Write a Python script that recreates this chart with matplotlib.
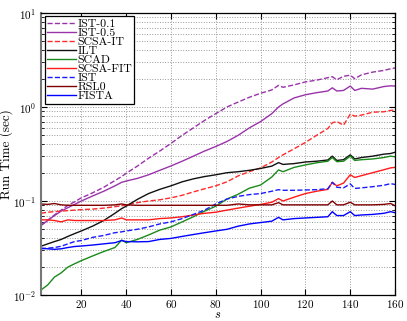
import numpy as np
import matplotlib
matplotlib.use("Agg")
from matplotlib import pyplot as plt

plt.rcParams['font.family'] = 'serif'
plt.rcParams['font.serif'] = ['cmr10', 'DejaVu Serif']
plt.rcParams['mathtext.fontset'] = 'cm'
plt.rcParams['axes.formatter.use_mathtext'] = True

s = [2, 5, 8, 11, 14, 17, 20, 25, 30, 35, 38, 40, 45, 50, 55, 60, 65, 70, 75, 80, 85,
     90, 95, 100, 105, 108, 110, 115, 120, 125, 130, 132, 134, 137, 140, 142, 145,
     150, 155, 158, 160]

ist_01 = [0.055, 0.0625, 0.071, 0.08, 0.09, 0.098, 0.108, 0.122, 0.14, 0.165, 0.182,
          0.197, 0.235, 0.285, 0.34, 0.41, 0.5, 0.6, 0.72, 0.85, 1.0, 1.13, 1.27, 1.4,
          1.52, 1.7, 1.62, 1.72, 1.85, 1.93, 2.05, 2.1, 1.95, 2.12, 2.18, 2.0, 2.2,
          2.35, 2.45, 2.55, 2.6]
ist_05 = [0.055, 0.062, 0.07, 0.078, 0.085, 0.092, 0.1, 0.113, 0.127, 0.145, 0.158,
          0.163, 0.174, 0.19, 0.212, 0.236, 0.265, 0.3, 0.34, 0.38, 0.43, 0.5, 0.6, 0.7,
          0.85, 1.0, 1.08, 1.25, 1.35, 1.42, 1.48, 1.6, 1.48, 1.5, 1.67, 1.5, 1.58,
          1.55, 1.65, 1.68, 1.67]
scsa_it = [0.074, 0.076, 0.077, 0.078, 0.079, 0.08, 0.081, 0.082, 0.084, 0.087, 0.089,
           0.091, 0.096, 0.1, 0.103, 0.108, 0.115, 0.125, 0.135, 0.145, 0.16, 0.185,
           0.205, 0.225, 0.26, 0.29, 0.31, 0.36, 0.42, 0.5, 0.59, 0.68, 0.70, 0.64,
           0.84, 0.80, 0.82, 0.88, 0.89, 0.92, 0.93]
ilt = [0.033, 0.035, 0.037, 0.039, 0.042, 0.045, 0.048, 0.054, 0.062, 0.074, 0.083,
       0.088, 0.104, 0.12, 0.133, 0.145, 0.16, 0.172, 0.182, 0.19, 0.2, 0.205, 0.212,
       0.222, 0.235, 0.256, 0.245, 0.25, 0.26, 0.265, 0.273, 0.30, 0.27, 0.275, 0.31,
       0.28, 0.29, 0.3, 0.315, 0.32, 0.33]
scad = [0.0113, 0.0128, 0.0155, 0.0172, 0.0198, 0.0215, 0.0232, 0.026, 0.029, 0.032,
        0.0384, 0.036, 0.039, 0.0435, 0.049, 0.053, 0.06, 0.068, 0.078, 0.088, 0.105,
        0.118, 0.137, 0.148, 0.18, 0.214, 0.205, 0.228, 0.242, 0.255, 0.265, 0.29,
        0.262, 0.265, 0.30, 0.27, 0.275, 0.28, 0.29, 0.3, 0.295]
scsa_fit = [0.063, 0.063, 0.062, 0.06, 0.063, 0.062, 0.062, 0.062, 0.062, 0.063, 0.066,
            0.063, 0.063, 0.063, 0.065, 0.066, 0.068, 0.071, 0.074, 0.076, 0.08, 0.084,
            0.088, 0.092, 0.097, 0.106, 0.1, 0.11, 0.12, 0.127, 0.133, 0.158, 0.145,
            0.155, 0.19, 0.178, 0.186, 0.2, 0.215, 0.225, 0.228]
ist = [0.031, 0.0315, 0.032, 0.033, 0.035, 0.037, 0.038, 0.041, 0.043, 0.046, 0.047,
       0.048, 0.05, 0.053, 0.057, 0.06, 0.065, 0.072, 0.08, 0.093, 0.105, 0.112, 0.117,
       0.12, 0.127, 0.132, 0.13, 0.13, 0.131, 0.132, 0.135, 0.158, 0.14, 0.138, 0.152,
       0.136, 0.138, 0.142, 0.147, 0.153, 0.15]
rsl0 = [0.093, 0.092, 0.094, 0.091, 0.09, 0.09, 0.09, 0.09, 0.09, 0.091, 0.093, 0.091,
        0.09, 0.09, 0.09, 0.09, 0.09, 0.09, 0.09, 0.09, 0.09, 0.093, 0.091, 0.091,
        0.091, 0.096, 0.091, 0.091, 0.091, 0.091, 0.091, 0.1, 0.091, 0.091, 0.097,
        0.091, 0.091, 0.091, 0.092, 0.094, 0.089]
fista = [0.0315, 0.031, 0.0306, 0.031, 0.032, 0.0328, 0.0332, 0.034, 0.035, 0.036,
         0.038, 0.037, 0.0368, 0.037, 0.039, 0.04, 0.042, 0.044, 0.046, 0.048, 0.05,
         0.054, 0.057, 0.059, 0.061, 0.067, 0.063, 0.065, 0.066, 0.067, 0.068, 0.077,
         0.07, 0.07, 0.077, 0.07, 0.071, 0.072, 0.074, 0.077, 0.075]

purple = '#9a33aa'
series = [
    ('IST-0.1', ist_01, purple, '--'),
    ('IST-0.5', ist_05, purple, '-'),
    ('SCSA-IT', scsa_it, '#ff2a2a', '--'),
    ('ILT', ilt, '#111111', '-'),
    ('SCAD', scad, '#1a8a1a', '-'),
    ('SCSA-FIT', scsa_fit, '#ff1a1a', '-'),
    ('IST', ist, '#1a1aff', '--'),
    ('RSL0', rsl0, '#800000', '-'),
    ('FISTA', fista, '#0000ff', '-'),
]

fig = plt.figure(figsize=(4.07, 3.21), dpi=100)
ax = fig.add_axes([0.1007, 0.081, 0.870, 0.8785])

for label, vals, color, ls in series:
    ax.plot(s, vals, color=color, ls=ls, lw=1.0, label=label)

ax.set_yscale('log')
ax.set_xlim(2, 160)
ax.set_ylim(0.01, 10)
ax.set_xticks(np.arange(20, 161, 20))
ax.grid(True, which='major', ls=':', color='#999999', lw=0.7)
ax.grid(True, which='minor', axis='y', ls=':', color='#999999', lw=0.7)
ax.tick_params(which='both', direction='in', top=True, right=True, labelsize=8)
ax.tick_params(axis='x', pad=2.5)
ax.tick_params(which='major', length=4)
ax.tick_params(which='minor', length=2)
for sp in ax.spines.values():
    sp.set_linewidth(0.9)
ax.spines['left'].set_color('#777777')
ax.spines['left'].set_linewidth(1.5)

ax.set_xlabel('$s$', fontsize=9)
ax.xaxis.set_label_coords(0.5, -0.05)
ax.set_ylabel('Run Time (sec)', fontsize=9.5)
ax.yaxis.set_label_coords(-0.078, 0.5)

leg = ax.legend(loc='upper left', bbox_to_anchor=(0.011, 0.989), borderaxespad=0,
                fontsize=8.5, labelspacing=-0.1, handlelength=2.4, handletextpad=0.15,
                borderpad=0.2, fancybox=False, framealpha=1, edgecolor='black')
leg.get_frame().set_linewidth(0.9)

fig.savefig('out.png', dpi=100)
